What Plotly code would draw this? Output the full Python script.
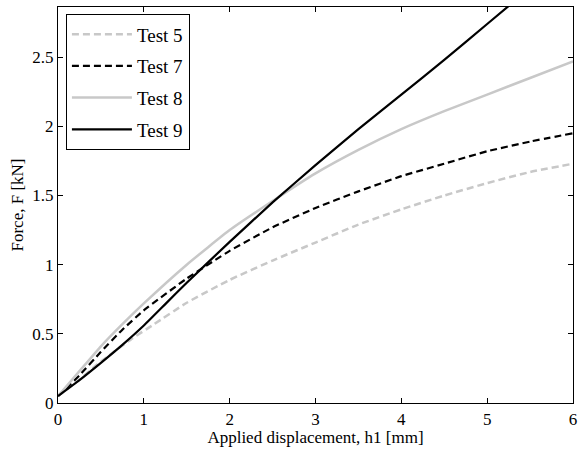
import plotly.graph_objects as go

# Data
x5 = [0, 0.25, 0.5, 0.85, 1.12, 1.5, 2.0, 2.5, 3.0, 3.5, 4.0, 4.5, 5.0, 5.5, 6.0]
y5 = [0.05, 0.17, 0.30, 0.46, 0.57, 0.725, 0.89, 1.03, 1.16, 1.29, 1.40, 1.50, 1.59, 1.67, 1.73]

x7 = [0, 0.25, 0.5, 0.75, 1.0, 1.5, 2.0, 2.5, 3.0, 3.5, 4.0, 4.5, 5.0, 5.5, 6.0]
y7 = [0.05, 0.20, 0.37, 0.53, 0.67, 0.90, 1.10, 1.27, 1.41, 1.53, 1.64, 1.73, 1.82, 1.89, 1.95]

x8 = [0, 0.25, 0.5, 0.75, 1.0, 1.5, 2.0, 2.5, 3.0, 3.5, 4.0, 4.5, 5.0, 5.5, 6.0]
y8 = [0.05, 0.23, 0.41, 0.57, 0.72, 1.00, 1.25, 1.46, 1.66, 1.83, 1.98, 2.11, 2.23, 2.35, 2.47]

x9 = [0, 0.25, 0.5, 0.75, 1.0, 1.25, 1.5, 2.0, 2.5, 3.0, 3.5, 4.0, 4.5, 5.0, 5.25]
y9 = [0.05, 0.165, 0.29, 0.42, 0.56, 0.715, 0.87, 1.165, 1.45, 1.72, 1.98, 2.23, 2.48, 2.74, 2.87]

names = ["Test 5", "Test 7", "Test 8", "Test 9"]
xticks = [0, 1, 2, 3, 4, 5, 6]
yticks = [0, 0.5, 1, 1.5, 2, 2.5]
ytick_text = ["0", "0.5", "1", "1.5", "2", "2.5"]

GREY = "#c8c8c8"
FONT = "'Liberation Serif', 'Times New Roman', serif"

fig = go.Figure()
series = [
    (x5, y5, names[0], GREY, "7px,4px", 2.5),
    (x7, y7, names[1], "black", "7px,4px", 2.2),
    (x8, y8, names[2], GREY, "solid", 2.5),
    (x9, y9, names[3], "black", "solid", 2.2),
]
for xs, ys, nm, col, dash, w in series:
    fig.add_trace(go.Scatter(
        x=xs, y=ys, name=nm, mode="lines", legendgroup=nm,
        line=dict(color=col, dash=dash, width=w, shape="spline", smoothing=0.4),
    ))

axis_common = dict(
    showline=True, linecolor="black", linewidth=1.2, mirror="ticks",
    ticks="inside", ticklen=5, tickcolor="black", showgrid=False, zeroline=False,
    tickfont=dict(family=FONT, size=17, color="black"),
)
fig.update_xaxes(range=[0, 6], tickvals=xticks, ticktext=[str(t) for t in xticks],
                 title=dict(text="Applied displacement, h1 [mm]",
                            font=dict(family=FONT, size=17, color="black"), standoff=3),
                 **axis_common)
fig.update_yaxes(range=[0, 2.863], tickvals=yticks, ticktext=ytick_text,
                 title=dict(text="Force, F [kN]",
                            font=dict(family=FONT, size=17, color="black"), standoff=4),
                 **axis_common)

fig.update_layout(
    width=583, height=453,
    margin=dict(l=58, r=6, t=7, b=50),
    paper_bgcolor="white", plot_bgcolor="white",
    font=dict(family=FONT, color="black"),
    legend=dict(x=0.015, y=0.982, xanchor="left", yanchor="top",
                bgcolor="white", bordercolor="black", borderwidth=1.2,
                font=dict(family=FONT, size=19, color="black"),
                tracegroupgap=4, itemwidth=60),
    showlegend=True,
)

fig.write_html("out.html")
